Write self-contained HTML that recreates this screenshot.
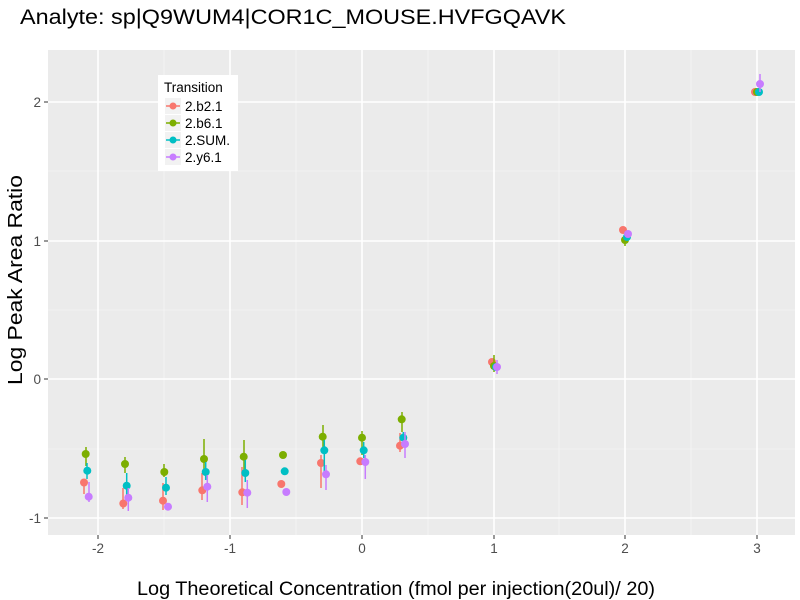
<!DOCTYPE html>
<html><head><meta charset="utf-8"><style>body{margin:0;background:#fff}svg{display:block}text{font-family:"Liberation Sans",sans-serif}</style></head><body>
<svg width="800" height="600" viewBox="0 0 800 600">
<rect width="800" height="600" fill="#fff"/>
<text x="20" y="24" font-size="21" fill="#000" textLength="546" lengthAdjust="spacingAndGlyphs">Analyte: sp|Q9WUM4|COR1C_MOUSE.HVFGQAVK</text>
<rect x="48" y="50" width="747" height="485" fill="#EBEBEB"/>
<g stroke="#F5F5F5" stroke-width="0.8">
<line x1="48" x2="795" y1="449" y2="449"/><line x1="48" x2="795" y1="310" y2="310"/><line x1="48" x2="795" y1="171" y2="171"/>
<line x1="164" x2="164" y1="50" y2="535"/><line x1="296" x2="296" y1="50" y2="535"/><line x1="428" x2="428" y1="50" y2="535"/><line x1="559" x2="559" y1="50" y2="535"/><line x1="691" x2="691" y1="50" y2="535"/>
</g>
<g stroke="#fff" stroke-width="1.6">
<line x1="48" x2="795" y1="518" y2="518"/><line x1="48" x2="795" y1="379" y2="379"/><line x1="48" x2="795" y1="241" y2="241"/><line x1="48" x2="795" y1="102" y2="102"/>
<line x1="98" x2="98" y1="50" y2="535"/><line x1="230" x2="230" y1="50" y2="535"/><line x1="362" x2="362" y1="50" y2="535"/><line x1="494" x2="494" y1="50" y2="535"/><line x1="625" x2="625" y1="50" y2="535"/><line x1="757" x2="757" y1="50" y2="535"/>
</g>
<g stroke="#333" stroke-width="1">
<line x1="98" x2="98" y1="535" y2="539"/><line x1="230" x2="230" y1="535" y2="539"/><line x1="362" x2="362" y1="535" y2="539"/><line x1="494" x2="494" y1="535" y2="539"/><line x1="625" x2="625" y1="535" y2="539"/><line x1="757" x2="757" y1="535" y2="539"/>
<line x1="44" x2="48" y1="518" y2="518"/><line x1="44" x2="48" y1="379" y2="379"/><line x1="44" x2="48" y1="241" y2="241"/><line x1="44" x2="48" y1="102" y2="102"/>
</g>
<g font-size="13.5" fill="#4D4D4D" text-anchor="middle">
<text x="98" y="553">-2</text><text x="230" y="553">-1</text><text x="362" y="553">0</text><text x="494" y="553">1</text><text x="625" y="553">2</text><text x="757" y="553">3</text>
</g>
<g font-size="13.5" fill="#4D4D4D" text-anchor="end">
<text x="41" y="523">-1</text><text x="41" y="384">0</text><text x="41" y="246">1</text><text x="41" y="107">2</text>
</g>
<text x="137" y="595" font-size="19" textLength="518" lengthAdjust="spacingAndGlyphs">Log Theoretical Concentration (fmol per injection(20ul)/ 20)</text>
<text transform="translate(22,385) rotate(-90)" font-size="20" textLength="210" lengthAdjust="spacingAndGlyphs">Log Peak Area Ratio</text>
<g stroke="#F8766D" stroke-width="1.5" fill="#F8766D">
<line x1="84" x2="84" y1="480" y2="494"/><line x1="123" x2="123" y1="488" y2="509"/><line x1="163" x2="163" y1="483" y2="510"/><line x1="202" x2="202" y1="473" y2="500"/><line x1="242" x2="242" y1="467" y2="505"/><line x1="321" x2="321" y1="455" y2="488"/><line x1="400" x2="400" y1="433" y2="452"/>
<g stroke="none"><circle cx="84" cy="482.5" r="4"/><circle cx="123.3" cy="503.5" r="4"/><circle cx="163" cy="500.7" r="4"/><circle cx="202.3" cy="490.3" r="4"/><circle cx="242.3" cy="492.3" r="4"/><circle cx="281.3" cy="484" r="4"/><circle cx="321" cy="463" r="4"/><circle cx="360.3" cy="461.3" r="4"/><circle cx="400" cy="445.7" r="4"/><circle cx="492" cy="362" r="4"/><circle cx="623" cy="230" r="4"/><circle cx="755" cy="92" r="4"/></g>
</g>
<g stroke="#7CAE00" stroke-width="1.5" fill="#7CAE00">
<line x1="86" x2="86" y1="447" y2="466"/><line x1="125" x2="125" y1="457" y2="473"/><line x1="164" x2="164" y1="464" y2="477"/><line x1="204" x2="204" y1="439" y2="470"/><line x1="244" x2="244" y1="440" y2="470"/><line x1="323" x2="323" y1="425" y2="450"/><line x1="362" x2="362" y1="431" y2="455"/><line x1="402" x2="402" y1="412" y2="432"/><line x1="494" x2="494" y1="355" y2="372"/><line x1="625" x2="625" y1="234" y2="246"/>
<g stroke="none"><circle cx="85.7" cy="454" r="4"/><circle cx="125" cy="464" r="4"/><circle cx="164.3" cy="472" r="4"/><circle cx="204" cy="459" r="4"/><circle cx="243.7" cy="456.7" r="4"/><circle cx="283" cy="455" r="4"/><circle cx="322.7" cy="436.7" r="4"/><circle cx="362" cy="437.7" r="4"/><circle cx="401.7" cy="419.3" r="4"/><circle cx="494" cy="366" r="4"/><circle cx="625" cy="240" r="4"/><circle cx="757" cy="92" r="4"/></g>
</g>
<g stroke="#00BFC4" stroke-width="1.5" fill="#00BFC4">
<line x1="87" x2="87" y1="463" y2="479"/><line x1="126.7" x2="126.7" y1="473" y2="495"/><line x1="166" x2="166" y1="477" y2="495"/><line x1="205.7" x2="205.7" y1="462" y2="480"/><line x1="245.3" x2="245.3" y1="460" y2="482"/><line x1="324.3" x2="324.3" y1="440" y2="473"/><line x1="363.7" x2="363.7" y1="442" y2="458"/><line x1="403.3" x2="403.3" y1="432" y2="445"/>
<g stroke="none"><circle cx="87.3" cy="470.7" r="4"/><circle cx="126.7" cy="485.7" r="4"/><circle cx="166" cy="487.7" r="4"/><circle cx="205.7" cy="472" r="4"/><circle cx="245.3" cy="473" r="4"/><circle cx="284.7" cy="471.3" r="4"/><circle cx="324.3" cy="450.3" r="4"/><circle cx="363.7" cy="450.3" r="4"/><circle cx="403.3" cy="437.7" r="4"/><circle cx="496" cy="367" r="4"/><circle cx="627" cy="237" r="4"/><circle cx="759" cy="92" r="4"/></g>
</g>
<g stroke="#C77CFF" stroke-width="1.5" fill="#C77CFF">
<line x1="89" x2="89" y1="482" y2="502"/><line x1="128.3" x2="128.3" y1="488" y2="511"/><line x1="207.3" x2="207.3" y1="475" y2="502"/><line x1="247.3" x2="247.3" y1="480" y2="508"/><line x1="326" x2="326" y1="465" y2="490"/><line x1="365.3" x2="365.3" y1="455" y2="479"/><line x1="405" x2="405" y1="432" y2="458"/><line x1="497" x2="497" y1="360" y2="374"/><line x1="760" x2="760" y1="74" y2="92"/>
<g stroke="none"><circle cx="88.7" cy="496.7" r="4"/><circle cx="128.3" cy="497.7" r="4"/><circle cx="168" cy="506.7" r="4"/><circle cx="207.3" cy="486.7" r="4"/><circle cx="247.3" cy="492.7" r="4"/><circle cx="286.3" cy="492" r="4"/><circle cx="326" cy="474.3" r="4"/><circle cx="365.3" cy="462" r="4"/><circle cx="405" cy="444" r="4"/><circle cx="497" cy="367" r="4"/><circle cx="628" cy="234" r="4"/><circle cx="760" cy="84" r="4"/></g>
</g>
<rect x="158" y="75" width="80" height="96" fill="#fff"/>
<text x="164" y="92" font-size="13.5">Transition</text>
<g font-size="13.5">
<rect x="165" y="98" width="16" height="16" fill="#F2F2F2"/><line x1="166" x2="180" y1="106" y2="106" stroke="#F8766D" stroke-width="1.5"/><circle cx="173" cy="106" r="3.5" fill="#F8766D"/><text x="185" y="111">2.b2.1</text>
<rect x="165" y="115" width="16" height="16" fill="#F2F2F2"/><line x1="166" x2="180" y1="123" y2="123" stroke="#7CAE00" stroke-width="1.5"/><circle cx="173" cy="123" r="3.5" fill="#7CAE00"/><text x="185" y="128">2.b6.1</text>
<rect x="165" y="132" width="16" height="16" fill="#F2F2F2"/><line x1="166" x2="180" y1="140" y2="140" stroke="#00BFC4" stroke-width="1.5"/><circle cx="173" cy="140" r="3.5" fill="#00BFC4"/><text x="185" y="145">2.SUM.</text>
<rect x="165" y="149" width="16" height="16" fill="#F2F2F2"/><line x1="166" x2="180" y1="157" y2="157" stroke="#C77CFF" stroke-width="1.5"/><circle cx="173" cy="157" r="3.5" fill="#C77CFF"/><text x="185" y="162">2.y6.1</text>
</g>
</svg>
</body></html>
